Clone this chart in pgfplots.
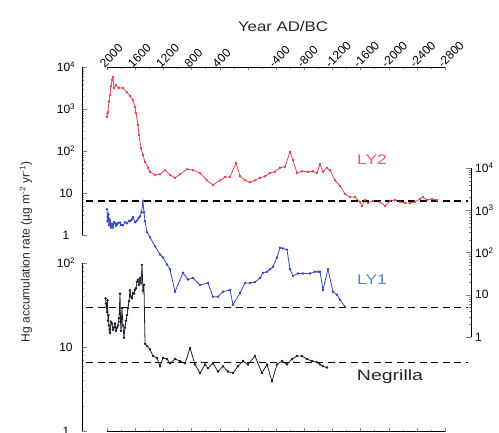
\documentclass[border=0pt]{standalone}
\usepackage{pgfplots}
\pgfplotsset{compat=1.18}
\usepackage{fontspec}
\setmainfont{Liberation Sans}
\definecolor{lyred}{RGB}{222,70,78}
\definecolor{lyredtxt}{RGB}{232,95,100}
\definecolor{lyblue}{RGB}{55,70,185}
\definecolor{lybluetxt}{RGB}{90,130,205}
\definecolor{negr}{RGB}{35,30,45}
\pgfplotsset{
  myaxis/.style={scale only axis, anchor=south west, clip=false,
    tick align=inside, major tick length=5pt, minor tick length=2.5pt},
  yonly/.style={x axis line style={draw=none}, xtick=\empty},
  xonly/.style={y axis line style={draw=none}, ytick=\empty},
  mydash/.style={black, line width=1.3pt, dash pattern=on 7pt off 4.5pt},
}
\begin{document}
\fontsize{12}{13}\selectfont
\begin{tikzpicture}

% LY2
\begin{axis}[myaxis, at={(82pt,197pt)}, width=363pt, height=168pt,
  xmin=-2800, xmax=2355, x dir=reverse,
  ymode=log, ymin=1, ymax=10000,
  axis lines*=left, yonly,
  ytick={1,10,100,1000,10000},
  yticklabels={1,10,10\textsuperscript{2},10\textsuperscript{3},10\textsuperscript{4}},
  minor ytick={2,3,4,5,6,7,8,9,20,30,40,50,60,70,80,90,200,300,400,500,600,700,800,900,2000,3000,4000,5000,6000,7000,8000,9000},
  yticklabel style={anchor=center, xshift=-16pt},
]
\addplot[lyred, line width=0.8pt, mark=*, mark size=0.8pt] coordinates {
(2000,646) (1993,760) (1986,850) (1972,1500) (1957,2140) (1943,3500) (1929,4900) (1915,5750) (1901,3160) (1872,3720) (1830,3160) (1773,3160) (1716,2510) (1673,2040) (1631,1620) (1602,1120) (1588,800) (1560,417) (1546,240) (1517,117) (1489,80) (1460,55) (1418,40) (1389,32) (1318,27) (1247,28) (1176,35) (1105,27) (1034,23) (963,28) (864,37) (779,35) (679,30) (580,20) (495,15.5) (395,20) (324,24) (253,24) (168,52) (111,25) (40,20) (-31,18) (-102,20) (-173,23) (-244,25) (-315,30) (-386,32) (-457,40) (-528,42) (-599,95) (-641,61) (-698,30) (-769,33) (-854,32) (-925,33) (-982,30) (-1025,49) (-1067,32) (-1124,40) (-1167,35) (-1238,20) (-1309,14.7) (-1380,9.5) (-1451,8.0) (-1522,8.0) (-1593,6.1) (-1621,4.9) (-1664,6.8) (-1706,5.8) (-1777,6.5) (-1877,6.1) (-1948,4.9) (-2019,6.5) (-2090,6.8) (-2161,6.1) (-2232,5.8) (-2303,5.8) (-2374,6.1) (-2445,7.2) (-2487,8.0) (-2544,6.8) (-2615,7.2) (-2686,6.8)
};
\addplot[mydash] coordinates {(2298,6.45) (-3126,6.45)};
\end{axis}

% LY1
\begin{axis}[myaxis, at={(82pt,95pt)}, width=389pt, height=169pt,
  xmin=-3169, xmax=2355, x dir=reverse,
  ymode=log, ymin=1, ymax=10000,
  axis lines*=right, yonly,
  ytick={1,10,100,1000,10000},
  yticklabels={1,10,10\textsuperscript{2},10\textsuperscript{3},10\textsuperscript{4}},
  minor ytick={2,3,4,5,6,7,8,9,20,30,40,50,60,70,80,90,200,300,400,500,600,700,800,900,2000,3000,4000,5000,6000,7000,8000,9000},
  yticklabel style={anchor=west},
]
\addplot[lyblue, line width=0.8pt, mark=*, mark size=0.8pt] coordinates {
(2000,1050) (1993,550) (1986,680) (1979,800) (1972,440) (1964,600) (1957,550) (1943,390) (1929,480) (1915,390) (1901,520) (1886,490) (1872,430) (1858,465) (1844,500) (1815,515) (1801,450) (1773,440) (1745,520) (1716,490) (1690,560) (1673,550) (1650,600) (1631,680) (1600,520) (1574,575) (1550,650) (1531,720) (1510,900) (1489,1630) (1475,900) (1460,550) (1432,300) (1389,230) (1318,140) (1247,90) (1205,76) (1148,52) (1105,40) (1034,11.8) (921,33) (850,23) (779,25) (679,17) (566,19) (495,9) (424,9) (353,11.8) (253,13) (211,5.8) (111,11) (40,19) (-31,19) (-102,20) (-173,25) (-215,33) (-272,35) (-315,40) (-357,46) (-414,76) (-457,130) (-499,125) (-556,117) (-599,40) (-641,28) (-712,32) (-783,32) (-883,32) (-954,35) (-996,35) (-1025,35) (-1067,13) (-1138,40) (-1209,11.8) (-1266,10) (-1309,7.6) (-1380,5.2)
};
\addplot[mydash] coordinates {(2298,4.9) (-3126,4.9)};
\end{axis}

% Negrilla
\begin{axis}[myaxis, at={(82pt,1pt)}, width=363pt, height=168pt,
  xmin=-2800, xmax=2355, x dir=reverse,
  ymode=log, ymin=1, ymax=100,
  axis lines*=left, yonly,
  ytick={1,10,100},
  yticklabels={1,10,10\textsuperscript{2}},
  minor ytick={2,3,4,5,6,7,8,9,20,30,40,50,60,70,80,90},
  yticklabel style={anchor=center, xshift=-16pt},
]
\addplot[negr, line width=0.8pt, mark=*, mark size=0.8pt] coordinates {
(2020,38) (2014,33) (2007,30) (2000,26) (1993,36) (1986,20.5) (1979,24) (1972,18) (1964,16) (1957,14.8) (1943,20) (1929,19) (1915,16) (1901,17) (1886,19) (1872,15.6) (1858,17) (1844,18) (1830,22) (1815,43) (1808,20) (1801,15.6) (1787,29) (1773,18) (1759,12.9) (1745,17) (1730,20.5) (1716,24) (1702,29) (1688,35) (1673,47) (1660,40) (1645,38) (1631,44) (1617,43) (1602,48) (1588,50) (1574,60) (1560,63) (1545,55) (1531,66) (1517,58) (1503,95) (1489,47) (1475,55) (1460,10.9) (1432,10.3) (1389,9.4) (1347,7.8) (1290,7.4) (1247,5.9) (1205,7.4) (1148,7.2) (1105,6.4) (1034,7.2) (963,6.8) (892,6.4) (821,9.7) (750,6.2) (679,4.9) (608,6.2) (566,5.6) (495,6.4) (424,5.1) (353,5.9) (282,5.1) (211,4.9) (140,5.9) (69,6.8) (-2,6.2) (-102,7.8) (-201,4.9) (-272,6.2) (-343,3.9) (-414,6.2) (-485,6.8) (-556,6.2) (-627,7.2) (-698,7.8) (-769,7.8) (-840,7.2) (-911,6.8) (-982,6.6) (-1025,6.2) (-1067,5.9) (-1124,5.7)
};
\addplot[mydash] coordinates {(2298,6.6) (-3126,6.6)};
\end{axis}

% top axis
\begin{axis}[myaxis, anchor=north west, at={(107pt,365pt)}, width=338pt, height=10pt,
  xmin=-2800, xmax=2000, x dir=reverse, ymin=0, ymax=1,
  axis x line*=top, axis y line*=left, xonly,
  major tick length=3.5pt, minor tick length=2pt,
  xtick={2000,1600,1200,800,400,0,-400,-800,-1200,-1600,-2000,-2400,-2800},
  xticklabels={2000,1600,1200,800,400,,-400,-800,-1200,-1600,-2000,-2400,-2800},
  minor xtick={1800,1400,1000,600,200,-200,-600,-1000,-1400,-1800,-2200,-2600},
  xticklabel style={rotate=45, anchor=south west, inner sep=0.5pt, xshift=-3pt},
]
\end{axis}

% bottom axis
\begin{axis}[myaxis, at={(107pt,0.5pt)}, width=338pt, height=10pt,
  xmin=-2800, xmax=2000, x dir=reverse, ymin=0, ymax=1,
  axis lines*=left, xonly,
  major tick length=3.5pt, minor tick length=2pt,
  xtick={2000,1600,1200,800,400,0,-400,-800,-1200,-1600,-2000,-2400,-2800},
  xticklabels={},
  minor xtick={1800,1400,1000,600,200,-200,-600,-1000,-1400,-1800,-2200,-2600},
]
\end{axis}

\node[font=\fontsize{14}{16}\selectfont, xscale=1.2, text=black!85] at (283pt,406pt) {Year AD/BC};
\node[font=\fontsize{12}{14}\selectfont, rotate=90, text=black!85] at (26pt,180pt) {Hg accumulation rate (µg m\textsuperscript{-2} yr\textsuperscript{-1})};
\node[font=\fontsize{14}{16}\selectfont, xscale=1.25, text=lyredtxt] at (372pt,272pt) {LY2};
\node[font=\fontsize{14}{16}\selectfont, xscale=1.25, text=lybluetxt] at (372pt,152pt) {LY1};
\node[font=\fontsize{15}{17}\selectfont, xscale=1.3, text=black!85] at (390pt,55pt) {Negrilla};
\pgfresetboundingbox
\path[use as bounding box] (0pt,0pt) rectangle (499pt,432pt);
\end{tikzpicture}
\end{document}
